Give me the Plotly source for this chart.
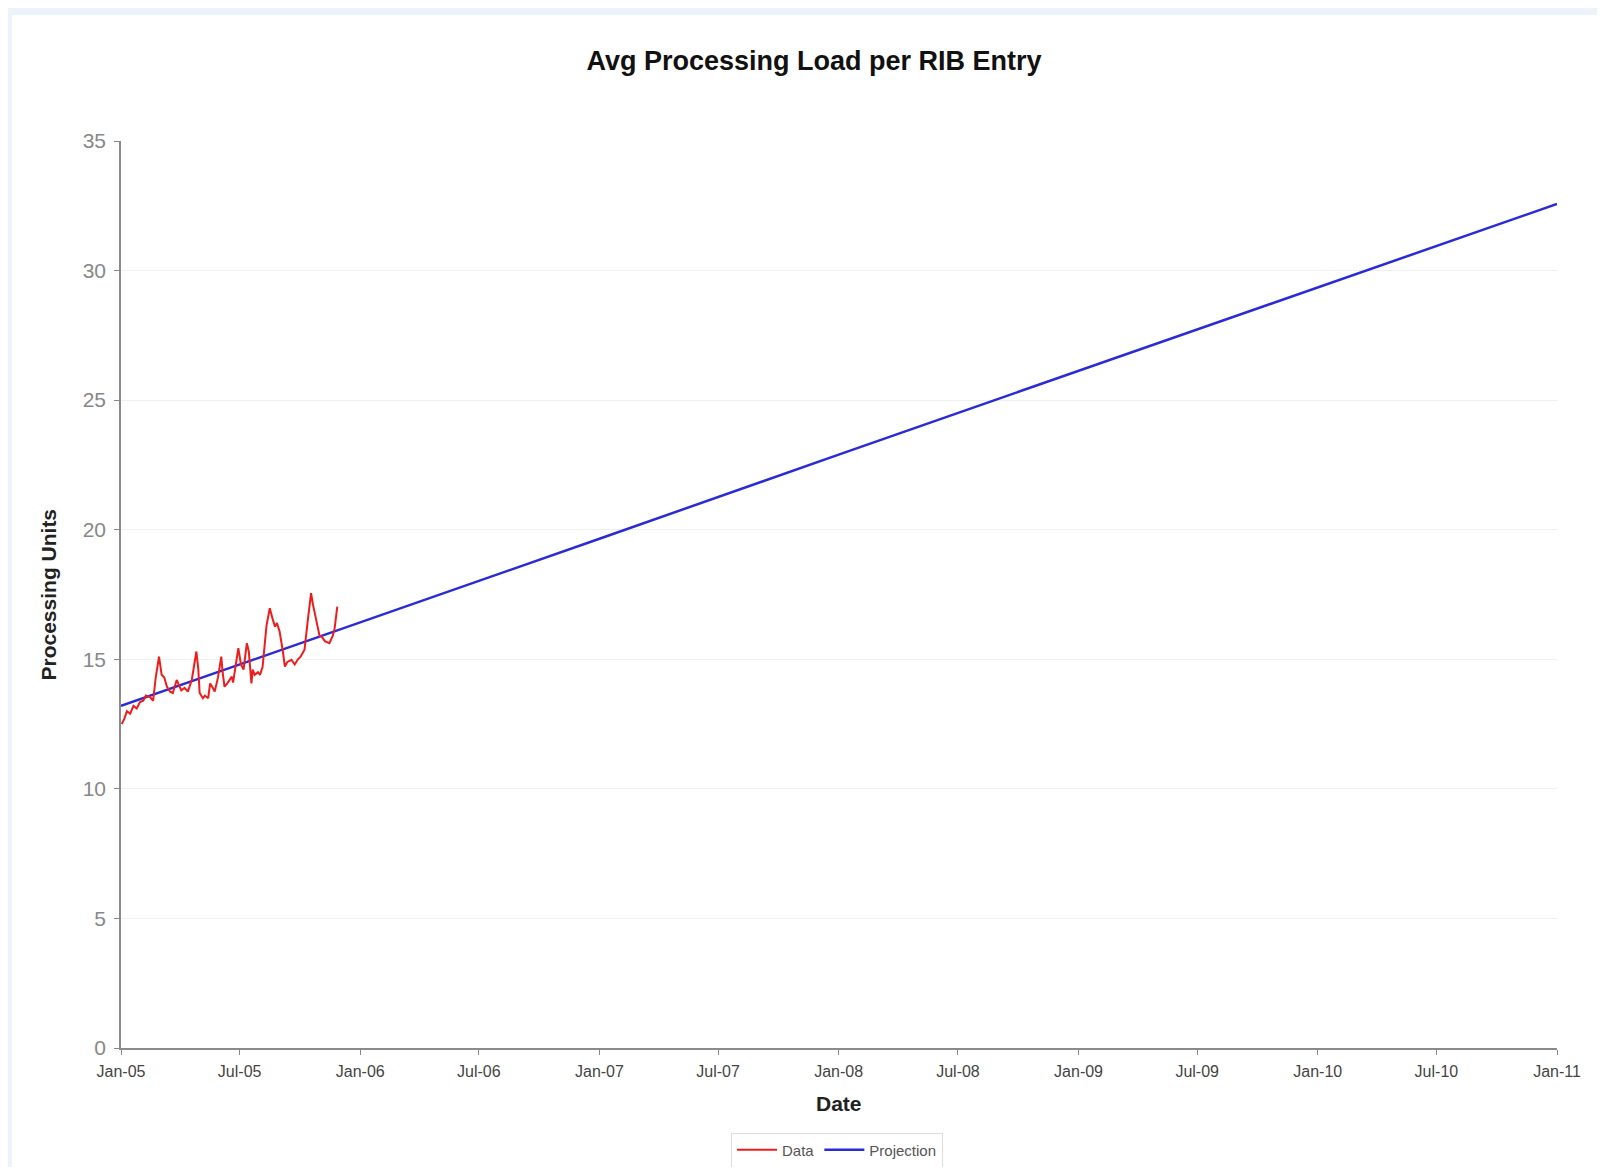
import plotly.graph_objects as go

# ---- data ----
data_dates = [
    "2005-01-02", "2005-01-06", "2005-01-10", "2005-01-15", "2005-01-20", "2005-01-25", "2005-01-30",
    "2005-02-04", "2005-02-08", "2005-02-14", "2005-02-19", "2005-02-23", "2005-02-28",
    "2005-03-04", "2005-03-08", "2005-03-12", "2005-03-17", "2005-03-21", "2005-03-27", "2005-03-30",
    "2005-04-03", "2005-04-08", "2005-04-13", "2005-04-19", "2005-04-26", "2005-04-29",
    "2005-05-01", "2005-05-06", "2005-05-09", "2005-05-14", "2005-05-17", "2005-05-21", "2005-05-24", "2005-05-29",
    "2005-06-03", "2005-06-05", "2005-06-08", "2005-06-13", "2005-06-19", "2005-06-21", "2005-06-25", "2005-06-29",
    "2005-07-03", "2005-07-07", "2005-07-12", "2005-07-15", "2005-07-19", "2005-07-21", "2005-07-24", "2005-07-29",
    "2005-08-01", "2005-08-05", "2005-08-11", "2005-08-16", "2005-08-21", "2005-08-24", "2005-08-27", "2005-08-31",
    "2005-09-05", "2005-09-08", "2005-09-12", "2005-09-18", "2005-09-23", "2005-09-28",
    "2005-10-02", "2005-10-08", "2005-10-13", "2005-10-18", "2005-10-21", "2005-10-26", "2005-10-31",
    "2005-11-03", "2005-11-08", "2005-11-15", "2005-11-20", "2005-11-23", "2005-11-27",
]
data_values = [
    12.5, 12.7, 13.0, 12.9, 13.2, 13.1, 13.35,
    13.4, 13.6, 13.55, 13.4, 14.3, 15.1,
    14.4, 14.3, 13.95, 13.75, 13.7, 14.2, 14.0,
    13.8, 13.9, 13.75, 14.2, 15.3, 14.6,
    13.7, 13.5, 13.6, 13.5, 14.07, 13.9, 13.76, 14.3,
    15.1, 14.5, 13.94, 14.1, 14.33, 14.1, 14.8, 15.43,
    14.8, 14.6, 15.62, 15.3, 14.07, 14.6, 14.4, 14.5,
    14.4, 14.7, 16.3, 16.97, 16.5, 16.26, 16.4, 16.07,
    15.3, 14.72, 14.9, 14.98, 14.8, 15.0,
    15.1, 15.37, 16.5, 17.55, 17.1, 16.52, 15.9,
    15.88, 15.7, 15.62, 15.9, 16.2, 17.03,
]

proj_dates = ["2005-01-01", "2006-01-01", "2007-01-01", "2008-01-01",
              "2009-01-01", "2010-01-01", "2011-01-01"]
proj_values = [13.2, 16.42, 19.65, 22.9, 26.12, 29.35, 32.57]

tick_dates = ["2005-01-01", "2005-07-01", "2006-01-01", "2006-07-01", "2007-01-01",
              "2007-07-01", "2008-01-01", "2008-07-01", "2009-01-01", "2009-07-01",
              "2010-01-01", "2010-07-01", "2011-01-01"]
tick_labels = ["Jan-05", "Jul-05", "Jan-06", "Jul-06", "Jan-07", "Jul-07", "Jan-08",
               "Jul-08", "Jan-09", "Jul-09", "Jan-10", "Jul-10", "Jan-11"]
y_ticks = [0, 5, 10, 15, 20, 25, 30, 35]

FONT = "Liberation Sans, Arial, sans-serif"

fig = go.Figure()
fig.add_trace(go.Scatter(x=proj_dates, y=proj_values, mode="lines", name="Projection",
                         line=dict(color="#2a2ad6", width=2.5)))
fig.add_trace(go.Scatter(x=data_dates, y=data_values, mode="lines", name="Data",
                         line=dict(color="#f01c1c", width=2)))

# page offset of the plot div (body margin)
OFF = 8
W, H = 1605 - OFF, 1175 - 2 * OFF
# plot area in window coordinates
PL, PR, PT, PB = 121, 1557, 141, 1048
PW, PH = PR - PL, PB - PT


def fx(wx):
    return (wx - PL) / PW


def fy(wy):
    return (PB - wy) / PH


fig.update_layout(
    width=W, height=H,
    margin=dict(l=PL - OFF, r=W - (PR - OFF), t=PT - OFF, b=H - (PB - OFF)),
    paper_bgcolor="#edf2fb",
    plot_bgcolor="white",
    font=dict(family=FONT),
    title=dict(text="<b>Avg Processing Load per RIB Entry</b>",
               x=(814 - OFF) / W, xanchor="center", y=1 - (61 - OFF) / H, yanchor="middle",
               font=dict(size=27, color="#111111", family=FONT)),
    showlegend=True,
    legend=dict(orientation="h", xref="container", yref="container",
                x=(837 - OFF) / W, xanchor="center",
                y=1 - (1150 - OFF) / H, yanchor="middle",
                bordercolor="#dddddd", borderwidth=1, bgcolor="white",
                font=dict(size=15, color="#555555"), traceorder="reversed",
                itemwidth=40),
    shapes=[dict(type="rect", xref="paper", yref="paper", layer="below",
                 x0=fx(12), x1=fx(1615), y0=fy(1185), y1=fy(15),
                 fillcolor="white", line=dict(width=0))],
    annotations=[
        dict(text="<b>Processing Units</b>", xref="paper", yref="paper",
             x=fx(48), y=0.5, xanchor="center", yanchor="middle",
             textangle=-90, showarrow=False, font=dict(size=21, color="#222222", family=FONT)),
        dict(text="<b>Date</b>", xref="paper", yref="paper",
             x=fx(839), y=fy(1103), xanchor="center", yanchor="middle",
             showarrow=False, font=dict(size=21, color="#222222", family=FONT)),
    ],
)

fig.update_xaxes(
    type="date", range=["2005-01-01", "2011-01-01"],
    tickvals=tick_dates, ticktext=tick_labels,
    tickfont=dict(size=16, color="#444444"),
    ticks="outside", ticklen=5, tickcolor="#888888",
    ticklabelstandoff=3,
    showline=True, linecolor="#8a8a8a", linewidth=2,
    showgrid=False, zeroline=False,
)
fig.update_yaxes(
    range=[0, 35], tickvals=y_ticks,
    tickfont=dict(size=21, color="#888888"),
    ticks="outside", ticklen=5, tickcolor="#888888",
    ticklabelstandoff=4,
    showline=True, linecolor="#8a8a8a", linewidth=1.5,
    showgrid=True, gridcolor="#efefef", gridwidth=1, zeroline=False,
)

fig.write_html("out.html")
